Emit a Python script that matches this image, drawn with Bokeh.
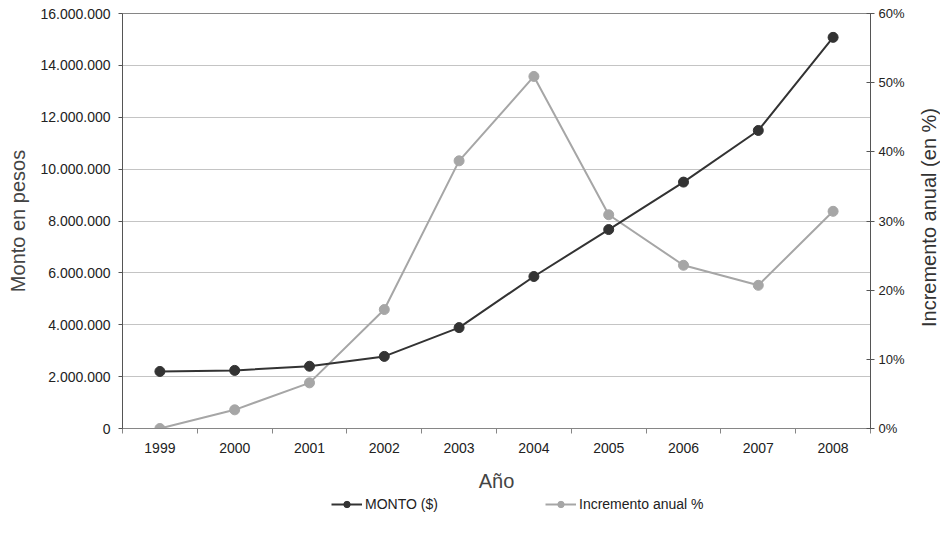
import math
from bokeh.plotting import figure
from bokeh.layouts import column, row
from bokeh.models import (Range1d, LinearAxis, FixedTicker, Legend, LegendItem,
                          PrintfTickFormatter, Label)
from bokeh.embed import file_html
from bokeh.resources import INLINE

# ---- data ----
years = ["1999", "2000", "2001", "2002", "2003", "2004", "2005", "2006", "2007", "2008"]
monto = [2200000, 2240000, 2400000, 2780000, 3890000, 5860000, 7670000, 9500000, 11490000, 15080000]
incremento = [0.0, 2.7, 6.6, 17.2, 38.7, 50.9, 30.9, 23.6, 20.7, 31.4]
left_ticks = [0, 2000000, 4000000, 6000000, 8000000, 10000000, 12000000, 14000000, 16000000]
right_ticks = [0, 10, 20, 30, 40, 50, 60]

n = len(years)
xc = [i + 0.5 for i in range(n)]          # category centres
xb = [i for i in range(n + 1)]            # category boundaries

FONT = "Liberation Sans"
DARK = "#333333"
LIGHT = "#a6a6a6"
AXIS = "#868686"

# ---------------- main chart ----------------
p = figure(width=916, height=494, output_backend="svg", toolbar_location=None,
           x_range=Range1d(0, n), y_range=Range1d(left_ticks[0], left_ticks[-1]),
           min_border_left=122, min_border_right=46, min_border_top=13, min_border_bottom=66,
           x_axis_location=None, y_axis_location=None)
p.outline_line_color = AXIS
p.background_fill_color = "white"
p.border_fill_color = "white"
p.xgrid.visible = False

p.extra_y_ranges = {"pct": Range1d(right_ticks[0], right_ticks[-1])}

# x axis
xaxis = LinearAxis(ticker=FixedTicker(ticks=xc, minor_ticks=xb),
                   major_label_overrides={c: y for c, y in zip(xc, years)},
                   axis_label="Año")
xaxis.axis_line_color = AXIS
xaxis.major_tick_out = 0
xaxis.major_tick_in = 0
xaxis.minor_tick_out = 5
xaxis.minor_tick_in = 0
xaxis.minor_tick_line_color = AXIS
xaxis.major_label_standoff = 9
xaxis.major_label_text_font = FONT
xaxis.major_label_text_font_size = "14px"
xaxis.major_label_text_color = "#222222"
xaxis.axis_label_text_font = FONT
xaxis.axis_label_text_font_size = "20px"
xaxis.axis_label_text_font_style = "normal"
xaxis.axis_label_standoff = 14
p.add_layout(xaxis, "below")

# left axis
yaxis = LinearAxis(ticker=FixedTicker(ticks=left_ticks),
                   major_label_overrides={t: f"{t:,}".replace(",", ".") for t in left_ticks},
                   axis_label="Monto en pesos")
yaxis.axis_line_color = "#555555"
yaxis.major_tick_out = 4
yaxis.major_tick_in = 0
yaxis.major_tick_line_color = "#555555"
yaxis.minor_tick_line_color = None
yaxis.major_label_standoff = 8
yaxis.major_label_text_font = FONT
yaxis.major_label_text_font_size = "14px"
yaxis.major_label_text_color = "#222222"
yaxis.axis_label_text_font = FONT
yaxis.axis_label_text_font_size = "20px"
yaxis.axis_label_text_font_style = "normal"
yaxis.axis_label_standoff = 8
p.add_layout(yaxis, "left")
p.ygrid.ticker = FixedTicker(ticks=left_ticks)
p.ygrid.grid_line_color = "#c4c4c4"

# right axis
raxis = LinearAxis(y_range_name="pct", ticker=FixedTicker(ticks=right_ticks),
                   formatter=PrintfTickFormatter(format="%d%%"))
raxis.axis_line_color = "#555555"
raxis.major_tick_out = 4
raxis.major_tick_in = 4
raxis.major_tick_line_color = "#555555"
raxis.minor_tick_line_color = None
raxis.major_label_standoff = 4
raxis.major_label_text_font = FONT
raxis.major_label_text_font_size = "13px"
raxis.major_label_text_color = "#222222"
p.add_layout(raxis, "right")

# series (grey first, dark on top)
p.line(xc, incremento, y_range_name="pct", line_color=LIGHT, line_width=2)
p.scatter(xc, incremento, y_range_name="pct", size=10, fill_color=LIGHT, line_color=LIGHT)
p.line(xc, monto, line_color=DARK, line_width=2)
p.scatter(xc, monto, size=10, fill_color=DARK, line_color=DARK)

# ---------------- right-hand axis title (frame aligned with main plot) ----------------
pt = figure(width=24, height=494, output_backend="svg", toolbar_location=None,
            x_range=Range1d(0, 1), y_range=Range1d(0, 1), min_border=0,
            x_axis_location=None, y_axis_location=None)
pt.outline_line_color = None
pt.grid.visible = False
pt.add_layout(Label(x=12, y=211, x_units="screen", y_units="screen",
                    text="Incremento anual (en %)", angle=math.pi / 2,
                    text_align="center", text_baseline="middle",
                    text_font=FONT, text_font_size="20px", text_color="#333333"))

# ---------------- legend strip ----------------
pl = figure(width=940, height=38, output_backend="svg", toolbar_location=None,
            x_range=Range1d(0, 1), y_range=Range1d(-2, -1), min_border=0,
            x_axis_location=None, y_axis_location=None)
pl.outline_line_color = None
pl.grid.visible = False
# same series, outside this strip's visible range: only used for the legend glyphs
k1 = pl.line(xc, monto, line_color=DARK, line_width=2)
m1 = pl.scatter(xc, monto, size=10, fill_color=DARK, line_color=DARK)
k2 = pl.line(xc, incremento, line_color=LIGHT, line_width=2)
m2 = pl.scatter(xc, incremento, size=10, fill_color=LIGHT, line_color=LIGHT)

legend = Legend(items=[LegendItem(label="MONTO ($)", renderers=[k1, m1]),
                       LegendItem(label="Incremento anual %", renderers=[k2, m2])],
                orientation="horizontal", location=(331, 20))
legend.border_line_color = None
legend.background_fill_alpha = 0
legend.padding = 0
legend.margin = 0
legend.spacing = 56
legend.glyph_width = 31
legend.glyph_height = 16
legend.label_height = 16
legend.label_width = 124
legend.label_standoff = 3
legend.label_text_font = FONT
legend.label_text_font_size = "14px"
legend.label_text_color = "#222222"
pl.add_layout(legend, "center")

layout = column(row(p, pt), pl)
open("out.html", "w").write(file_html(layout, INLINE))
